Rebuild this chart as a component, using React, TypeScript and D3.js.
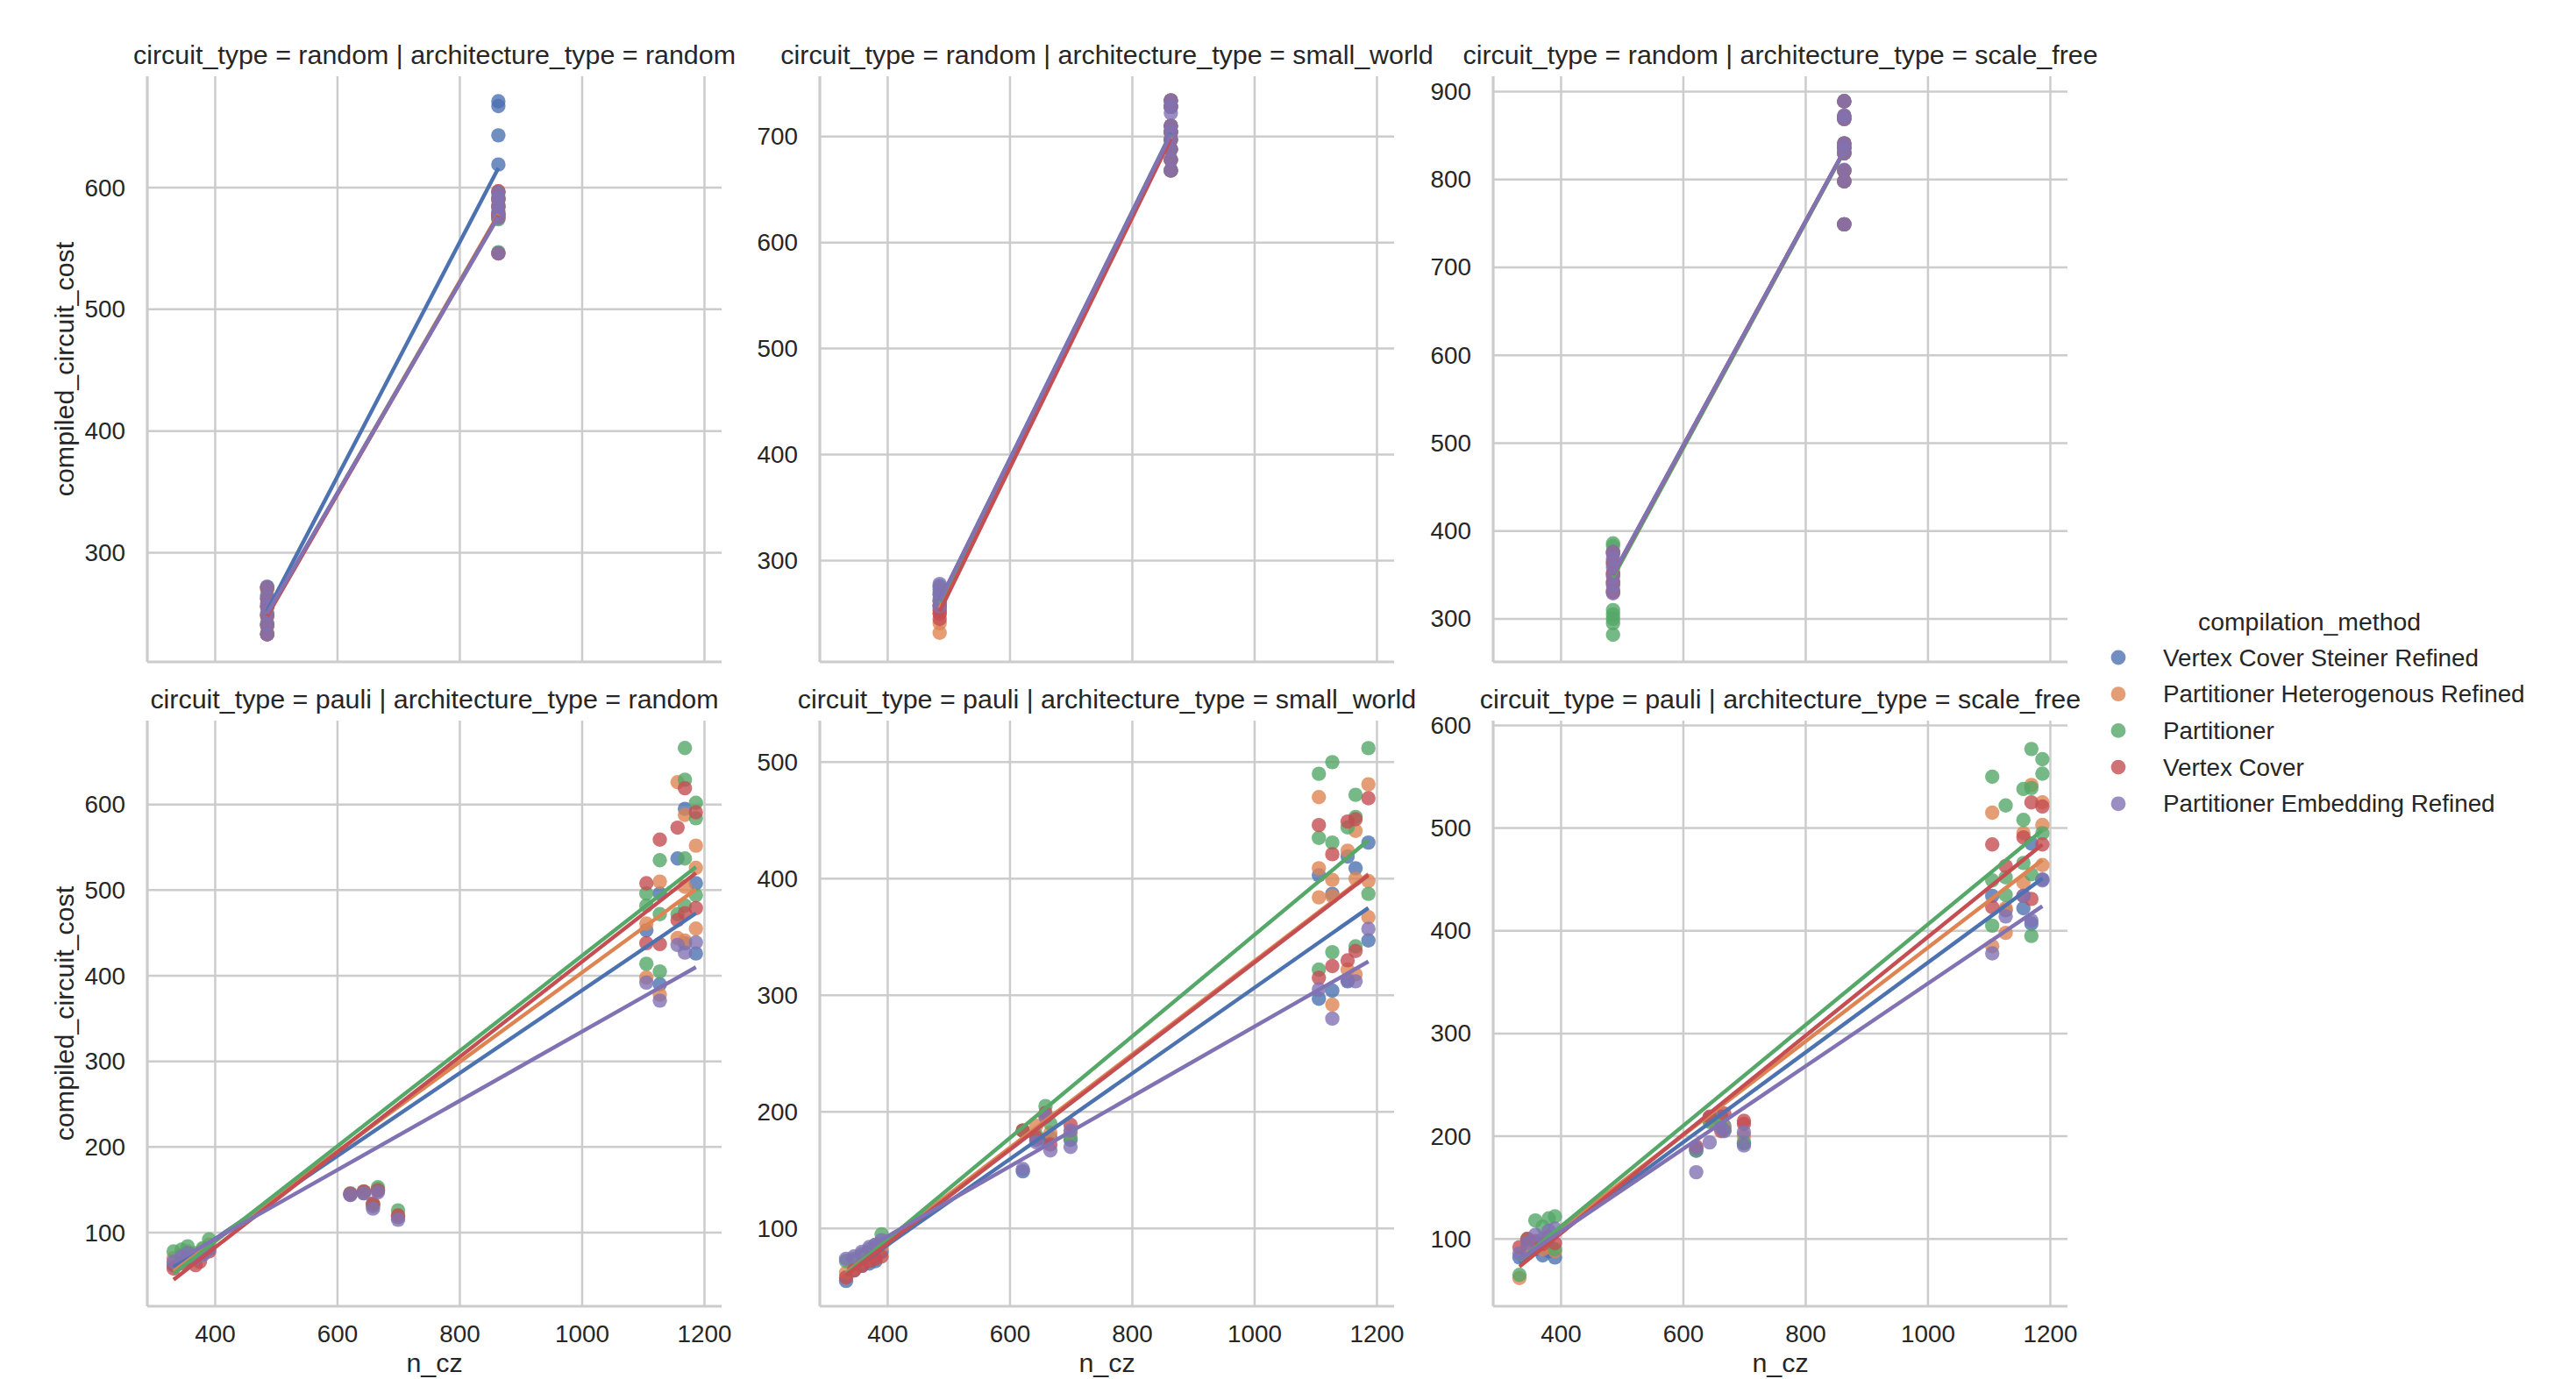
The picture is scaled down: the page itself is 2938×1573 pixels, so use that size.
import React from "react";
import * as d3 from "d3";

type Pt = [number, number];

const W = 2938;
const H = 1573;
const COL_LEFT = [168, 935, 1703];
const ROW_TOP = [87, 822];
const AX_W = 655;
const AX_H = 668;

const FONT = "'Liberation Sans', Arial, sans-serif";
const INK = "#262626";
const GRID = "#cccccc";

const METHODS = [
  "Vertex Cover Steiner Refined",
  "Partitioner Heterogenous Refined",
  "Partitioner",
  "Vertex Cover",
  "Partitioner Embedding Refined",
];
const PALETTE = ["#4C72B0", "#DD8452", "#55A868", "#C44E52", "#8172B3"];
const CIRCUIT_TYPES = ["random", "pauli"];
const ARCH_TYPES = ["random", "small_world", "scale_free"];

const X_LIM: Pt = [289, 1228];
const X_TICKS = [400, 600, 800, 1000, 1200];

// y limits per facet (row-major)
const Y_LIMS: Pt[] = [
  [210.3, 691.5],
  [204.5, 756.8],
  [251, 917.5],
  [14, 698],
  [33.3, 535.6],
  [34.5, 604.6],
];

// ---- circuit_type = random ----
const randomRandomPts: Pt[][] = [
  [[485, 233], [485, 242], [485, 250], [485, 258], [485, 265], [485, 272], [863, 671], [863, 667], [863, 643], [863, 619], [863, 592], [863, 578]],
  [[485, 233], [485, 240], [485, 248], [485, 255], [485, 262], [485, 270], [863, 597], [863, 590], [863, 584], [863, 578], [863, 575], [863, 546]],
  [[485, 234], [485, 241], [485, 249], [485, 256], [485, 263], [485, 271], [863, 596], [863, 591], [863, 585], [863, 579], [863, 574], [863, 547]],
  [[485, 233], [485, 240], [485, 248], [485, 256], [485, 262], [485, 271], [863, 597], [863, 590], [863, 584], [863, 578], [863, 576], [863, 546]],
  [[485, 233], [485, 241], [485, 249], [485, 256], [485, 263], [485, 272], [863, 596], [863, 591], [863, 585], [863, 580], [863, 575], [863, 546]],
];
const randomRandomFit: Pt[] = [[252, 616], [249, 578], [249, 577], [248, 577], [250, 576]];

const randomSmallWorldPts: Pt[][] = [
  [[485, 258], [485, 264], [485, 270], [485, 276], [863, 734], [863, 728], [863, 710], [863, 704], [863, 697], [863, 688], [863, 678], [863, 668]],
  [[485, 232], [485, 241], [485, 250], [485, 262], [863, 734], [863, 728], [863, 710], [863, 704], [863, 697], [863, 688], [863, 678], [863, 668]],
  [[485, 255], [485, 262], [485, 268], [485, 275], [863, 734], [863, 728], [863, 710], [863, 704], [863, 697], [863, 688], [863, 678], [863, 668]],
  [[485, 245], [485, 250], [485, 253], [485, 258], [863, 734], [863, 728], [863, 710], [863, 704], [863, 697], [863, 688], [863, 678], [863, 668]],
  [[485, 257], [485, 262], [485, 268], [485, 273], [485, 278], [863, 734], [863, 728], [863, 722], [863, 710], [863, 704], [863, 697], [863, 688], [863, 678], [863, 668]],
];
const randomSmallWorldFit: Pt[] = [[262, 703], [255, 700], [260, 702], [252, 698], [262, 702]];

const randomScaleFreePts: Pt[][] = [
  [[485, 332], [485, 340], [485, 350], [485, 362], [485, 374], [863, 889], [863, 872], [863, 869], [863, 841], [863, 836], [863, 830], [863, 810], [863, 798], [863, 749]],
  [[485, 331], [485, 341], [485, 351], [485, 363], [485, 375], [863, 889], [863, 872], [863, 869], [863, 841], [863, 836], [863, 830], [863, 810], [863, 798], [863, 749]],
  [[485, 282], [485, 295], [485, 300], [485, 305], [485, 310], [485, 383], [485, 386], [863, 889], [863, 872], [863, 869], [863, 841], [863, 836], [863, 830], [863, 810], [863, 798], [863, 749]],
  [[485, 330], [485, 342], [485, 352], [485, 365], [485, 376], [863, 889], [863, 872], [863, 869], [863, 841], [863, 836], [863, 830], [863, 810], [863, 798], [863, 749]],
  [[485, 329], [485, 338], [485, 348], [485, 358], [485, 368], [485, 376], [863, 889], [863, 873], [863, 869], [863, 841], [863, 836], [863, 830], [863, 811], [863, 798], [863, 749]],
];
const randomScaleFreeFit: Pt[] = [[350, 833], [350, 833], [347, 832], [350, 833], [351, 833]];

// ---- circuit_type = pauli ----
const pauliRandomPts: Pt[][] = [
  [[332, 62], [345, 66], [355, 70], [368, 72], [380, 76], [390, 82], [621, 144], [643, 146], [658, 131], [666, 150], [699, 118],
    [1105, 453], [1127, 496], [1127, 390], [1156, 537], [1168, 595], [1168, 438], [1186, 508], [1186, 426]],
  [[332, 70], [345, 74], [355, 78], [368, 70], [380, 80], [390, 86], [621, 145], [643, 147], [658, 132], [666, 151], [699, 120],
    [1105, 461], [1105, 398], [1127, 510], [1127, 378], [1156, 626], [1156, 444], [1168, 588], [1168, 504], [1168, 441], [1186, 552], [1186, 526], [1186, 455]],
  [[332, 78], [345, 80], [355, 84], [368, 76], [380, 82], [390, 92], [621, 146], [643, 148], [658, 133], [666, 153], [699, 126],
    [1105, 496], [1105, 482], [1105, 414], [1127, 535], [1127, 472], [1127, 405], [1156, 472], [1168, 666], [1168, 629], [1168, 537], [1168, 482], [1186, 602], [1186, 584], [1186, 494]],
  [[332, 58], [345, 64], [355, 68], [368, 62], [375, 66], [390, 78], [621, 145], [643, 148], [658, 134], [666, 149], [699, 120],
    [1105, 508], [1105, 438], [1127, 559], [1127, 437], [1156, 573], [1156, 465], [1168, 619], [1168, 473], [1186, 591], [1186, 479]],
  [[332, 66], [345, 72], [355, 76], [368, 70], [380, 74], [390, 80], [621, 144], [643, 146], [658, 128], [666, 147], [699, 115],
    [1105, 392], [1127, 371], [1156, 436], [1168, 427], [1186, 439]],
];
const pauliRandomFit: Pt[] = [[60, 473], [55, 501], [52, 527], [45, 520], [65, 410]];

const pauliSmallWorldPts: Pt[][] = [
  [[332, 55], [345, 64], [358, 68], [370, 70], [380, 72], [390, 80], [621, 149], [643, 176], [658, 176], [666, 178], [699, 176],
    [1105, 403], [1105, 297], [1127, 387], [1127, 304], [1152, 419], [1152, 312], [1165, 409], [1186, 431], [1186, 347]],
  [[332, 62], [345, 66], [358, 72], [370, 74], [380, 78], [390, 84], [621, 184], [643, 188], [658, 196], [666, 182], [699, 182],
    [1105, 470], [1105, 409], [1105, 384], [1127, 399], [1127, 385], [1127, 292], [1152, 424], [1152, 322], [1165, 441], [1165, 400], [1165, 318], [1186, 481], [1186, 398], [1186, 367]],
  [[332, 72], [345, 74], [358, 78], [370, 82], [380, 86], [390, 95], [621, 184], [643, 180], [658, 205], [666, 190], [699, 178],
    [1105, 490], [1105, 435], [1105, 322], [1127, 500], [1127, 431], [1127, 337], [1152, 444], [1165, 472], [1165, 453], [1165, 342], [1186, 512], [1186, 387]],
  [[332, 58], [345, 64], [358, 68], [370, 72], [380, 74], [390, 76], [621, 184], [643, 178], [658, 199], [666, 172], [699, 189],
    [1105, 446], [1105, 315], [1127, 421], [1127, 325], [1152, 449], [1152, 330], [1165, 451], [1165, 338], [1186, 469]],
  [[332, 74], [345, 76], [358, 80], [370, 84], [380, 86], [390, 90], [621, 151], [643, 174], [658, 196], [666, 167], [699, 184], [699, 170],
    [1105, 305], [1127, 280], [1152, 313], [1165, 312], [1186, 357]],
];
const pauliSmallWorldFit: Pt[] = [[61, 375], [62, 404], [61, 433], [60, 403], [73, 329]];

const pauliScaleFreePts: Pt[][] = [
  [[332, 82], [345, 88], [358, 90], [370, 84], [380, 88], [390, 82], [621, 186], [643, 218], [662, 219], [667, 210], [699, 193],
    [1105, 434], [1127, 420], [1156, 422], [1169, 485], [1169, 407], [1187, 450]],
  [[332, 62], [345, 92], [358, 96], [370, 90], [380, 94], [390, 88], [621, 188], [643, 215], [662, 212], [667, 208], [699, 200],
    [1105, 515], [1105, 385], [1127, 422], [1127, 398], [1156, 495], [1156, 447], [1169, 542], [1187, 525], [1187, 503], [1187, 464]],
  [[332, 65], [345, 100], [358, 118], [370, 112], [380, 120], [390, 122], [390, 90], [621, 186], [643, 214], [662, 211], [667, 206], [699, 194],
    [1105, 550], [1105, 449], [1105, 405], [1127, 522], [1127, 452], [1127, 435], [1156, 538], [1156, 508], [1156, 466], [1169, 577], [1169, 539], [1169, 455], [1169, 395], [1187, 567], [1187, 553], [1187, 495]],
  [[332, 92], [345, 100], [358, 98], [370, 95], [380, 102], [390, 96], [621, 190], [643, 219], [662, 205], [667, 222], [699, 215], [699, 212],
    [1105, 484], [1105, 423], [1127, 463], [1156, 491], [1156, 434], [1169, 525], [1169, 431], [1187, 521], [1187, 484]],
  [[332, 86], [345, 96], [358, 104], [370, 100], [380, 108], [390, 110], [621, 188], [621, 165], [643, 194], [662, 208], [667, 205], [699, 204], [699, 191],
    [1105, 378], [1127, 414], [1156, 434], [1169, 410], [1187, 449]],
];
const pauliScaleFreeFit: Pt[] = [[77, 451], [79, 469], [79, 498], [73, 484], [80, 424]];

const PANEL_PTS = [randomRandomPts, randomSmallWorldPts, randomScaleFreePts, pauliRandomPts, pauliSmallWorldPts, pauliScaleFreePts];
const PANEL_FITS = [randomRandomFit, randomSmallWorldFit, randomScaleFreeFit, pauliRandomFit, pauliSmallWorldFit, pauliScaleFreeFit];

const TICK_SIZE = 27.8;
const LABEL_SIZE = 30.4;

function Facet({ idx }: { idx: number }) {
  const row = Math.floor(idx / 3);
  const col = idx % 3;
  const pts = PANEL_PTS[idx];
  const fits = PANEL_FITS[idx];
  const x = d3.scaleLinear().domain(X_LIM).range([0, AX_W]);
  const y = d3.scaleLinear().domain(Y_LIMS[idx]).range([AX_H, 0]);
  const yTicks = y.ticks(5);
  const line = d3.line<Pt>().x((d) => x(d[0])).y((d) => y(d[1]));
  const title = `circuit_type = ${CIRCUIT_TYPES[row]} | architecture_type = ${ARCH_TYPES[col]}`;

  return (
    <g transform={`translate(${COL_LEFT[col]},${ROW_TOP[row]})`}>
      {X_TICKS.map((t) => (
        <line key={"gx" + t} x1={x(t)} x2={x(t)} y1={0} y2={AX_H} stroke={GRID} strokeWidth={2.5} />
      ))}
      {yTicks.map((t) => (
        <line key={"gy" + t} x1={0} x2={AX_W} y1={y(t)} y2={y(t)} stroke={GRID} strokeWidth={2.5} />
      ))}
      <line x1={0} x2={0} y1={0} y2={AX_H} stroke={GRID} strokeWidth={3.2} />
      <line x1={0} x2={AX_W} y1={AX_H} y2={AX_H} stroke={GRID} strokeWidth={3.2} />

      {pts.map((series, m) => (
        <g key={"s" + m} fill={PALETTE[m]}>
          {series.map((d, j) => (
            <circle key={j} cx={x(d[0])} cy={y(d[1])} r={8.2} fillOpacity={0.8} />
          ))}
        </g>
      ))}
      {fits.map((f, m) => {
        const [x0, x1] = d3.extent(pts[m], (d) => d[0]) as Pt;
        return (
          <path
            key={"f" + m}
            d={line([[x0, f[0]], [x1, f[1]]]) || ""}
            stroke={PALETTE[m]}
            strokeWidth={4.4}
            fill="none"
          />
        );
      })}

      {yTicks.map((t) => (
        <text key={"ty" + t} x={-25} y={y(t)} textAnchor="end" dominantBaseline="central" fontSize={TICK_SIZE} fill={INK}>
          {t}
        </text>
      ))}
      {row === 1 &&
        X_TICKS.map((t) => (
          <text key={"tx" + t} x={x(t)} y={AX_H + 31} textAnchor="middle" dominantBaseline="central" fontSize={TICK_SIZE} fill={INK}>
            {t}
          </text>
        ))}
      {row === 1 && (
        <text x={AX_W / 2} y={AX_H + 64} textAnchor="middle" dominantBaseline="central" fontSize={LABEL_SIZE} fill={INK}>
          n_cz
        </text>
      )}
      {col === 0 && (
        <text
          transform={`translate(-95.5,${AX_H / 2}) rotate(-90)`}
          textAnchor="middle"
          dominantBaseline="central"
          fontSize={LABEL_SIZE}
          fill={INK}
        >
          compiled_circuit_cost
        </text>
      )}
      <text x={AX_W / 2} y={-25} textAnchor="middle" dominantBaseline="central" fontSize={LABEL_SIZE} fill={INK}>
        {title}
      </text>
    </g>
  );
}

function Legend() {
  return (
    <g>
      <text x={2634} y={709} textAnchor="middle" dominantBaseline="central" fontSize={28.4} fill={INK}>
        compilation_method
      </text>
      {METHODS.map((m, i) => (
        <g key={m} transform={`translate(0,${750 + i * 41.7})`}>
          <circle cx={2416} cy={0} r={8.4} fill={PALETTE[i]} fillOpacity={0.8} />
          <text x={2467} y={0} dominantBaseline="central" fontSize={TICK_SIZE} fill={INK}>
            {m}
          </text>
        </g>
      ))}
    </g>
  );
}

export default function App() {
  return (
    <svg
      width={W}
      height={H}
      style={{ position: "absolute", left: 0, top: 0, background: "#ffffff" }}
      fontFamily={FONT}
    >
      <rect width={W} height={H} fill="#ffffff" />
      {PANEL_PTS.map((_, i) => (
        <Facet key={i} idx={i} />
      ))}
      <Legend />
    </svg>
  );
}
